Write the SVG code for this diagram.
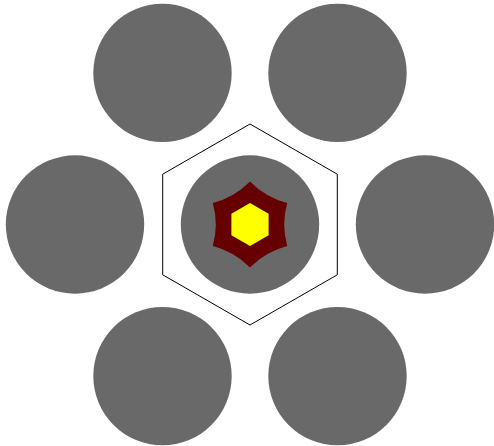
<svg xmlns="http://www.w3.org/2000/svg" width="494" height="446" viewBox="0 0 494 446">
<style>
.c{fill:#696969}
</style>
<rect width="494" height="446" fill="#ffffff"/>
<g id="outer-circles">
<circle id="n1" class="c" cx="162.5" cy="72.9" r="69.2"/>
<circle id="n2" class="c" cx="337.5" cy="72.9" r="69.2"/>
<circle id="n3" class="c" cx="75" cy="224.5" r="69.2"/>
<circle id="n4" class="c" cx="425" cy="224.5" r="69.2"/>
<circle id="n5" class="c" cx="162.5" cy="376.1" r="69.2"/>
<circle id="n6" class="c" cx="337.5" cy="376.1" r="69.2"/>
</g>
<g id="center">
<polygon points="250,124 337.3,174.2 337.3,274.8 250,325 162.7,274.8 162.7,174.2" fill="none" stroke="#000" stroke-width="1"/>
<circle class="c" cx="250" cy="224.5" r="69.2"/>
<path d="M250,181.5 A80,80 0 0 0 287.2,203 A80,80 0 0 0 287.2,246 A80,80 0 0 0 250,267.5 A80,80 0 0 0 212.8,246 A80,80 0 0 0 212.8,203 A80,80 0 0 0 250,181.5 Z" fill="#660000"/>
<polygon points="250,203 268.6,213.75 268.6,235.25 250,246 231.4,235.25 231.4,213.75" fill="#ffff00"/>
</g>
</svg>
